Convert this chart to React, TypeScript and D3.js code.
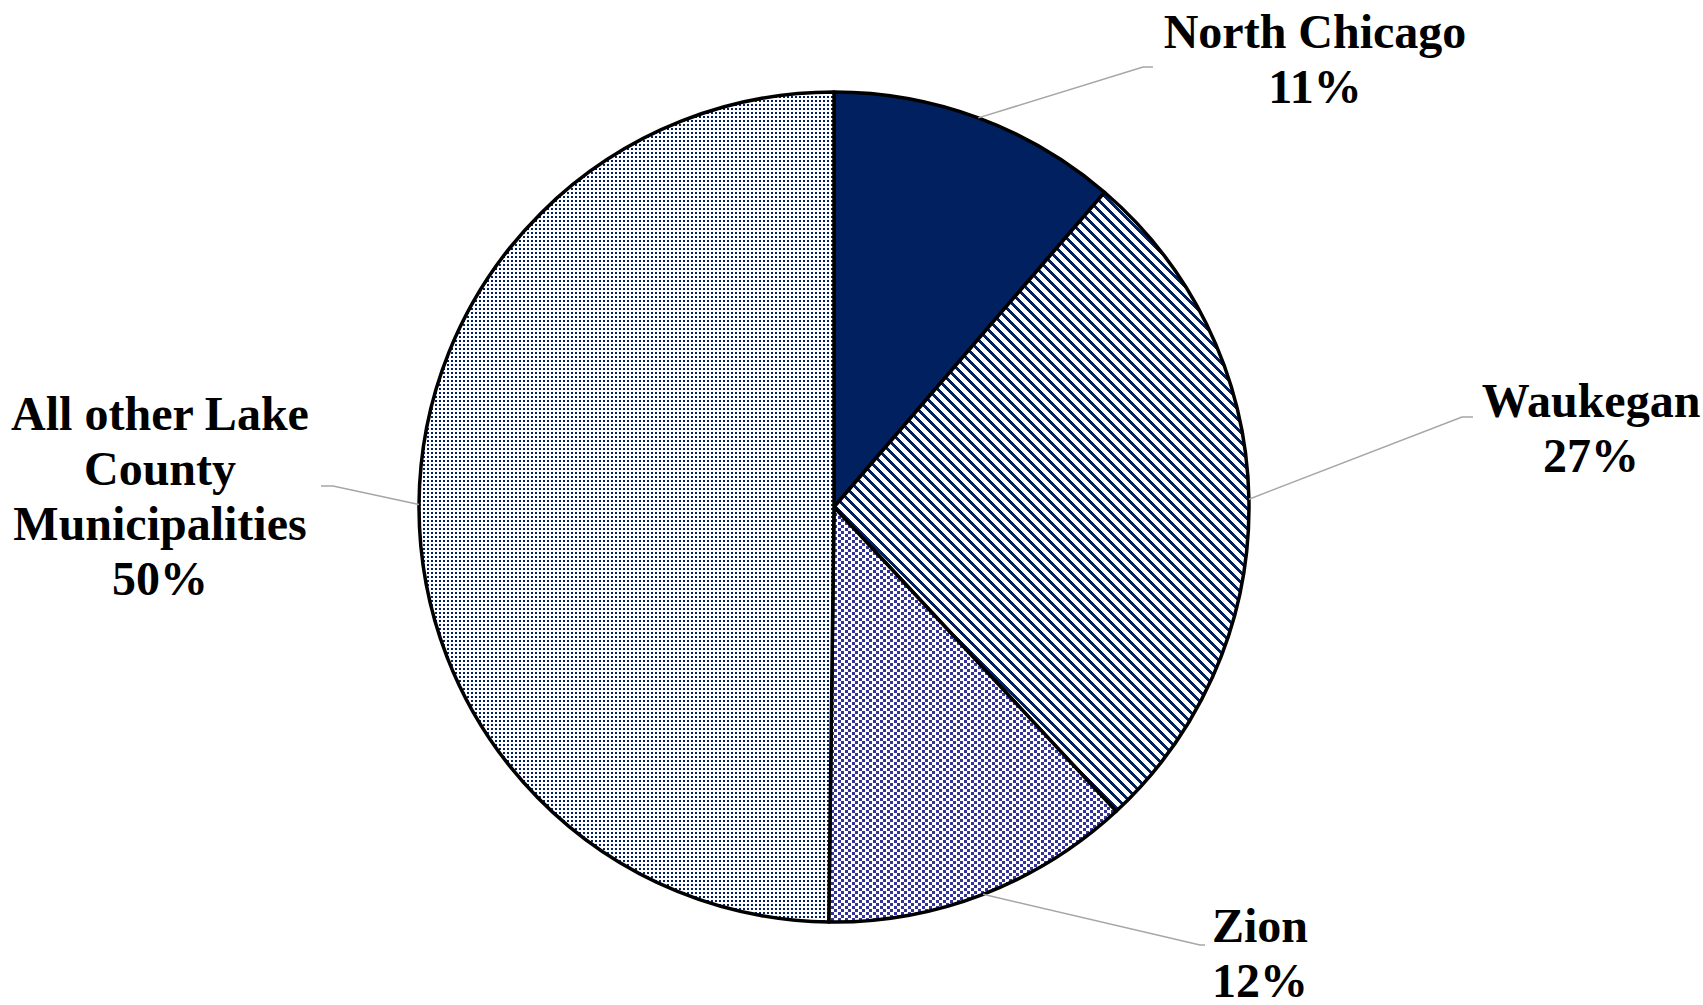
import React from 'react';
import * as d3 from 'd3';

// slice data, clockwise from 12 o'clock
const labels = ['North Chicago', 'Waukegan', 'Zion', 'All other Lake County Municipalities'];
const shares = [11.3, 26.8, 12.1, 49.8];
const fills = ['url(#solidNavy)', 'url(#wideDnDiag)', 'url(#confetti)', 'url(#fineDots)'];

// label text lines and layout (centre x, first baseline, leader end points)
const labelLines = [
  ['North Chicago'],
  ['Waukegan'],
  ['Zion'],
  ['All other Lake', 'County', 'Municipalities'],
];
const labelLayout = [
  { x: 1315, y: 48, leader: [[1143, 67], [1153, 67]] },
  { x: 1591, y: 417, leader: [[1462, 417], [1473, 417]] },
  { x: 1260, y: 942, leader: [[1200, 945], [1205, 945]] },
  { x: 160, y: 430, leader: [[333, 486], [321, 486]] },
];

const W = 1703;
const H = 1005;
const cx = 834;
const cy = 507;
const radius = 415;
const lineH = 55;
const navy = '#002060';
const zionBlue = '#33339a';

// stair-step rows for the wide downward diagonal tile
const diagP = 10;
const diagBand = 4;
const diagRows = d3.range(diagP);

const App: React.FC = () => {
  const total = d3.sum(shares);
  const pie = d3.pie<number>().value(d => d).sort(null);
  const arcs = pie(shares);
  const arc = d3.arc<d3.PieArcDatum<number>>().innerRadius(0).outerRadius(radius);

  return (
    <svg
      width={W}
      height={H}
      style={{ position: 'absolute', left: 0, top: 0, background: '#fff' }}
    >
      <defs>
        <pattern id="solidNavy" patternUnits="userSpaceOnUse" width={4} height={4}>
          <rect width={4} height={4} fill={navy} />
        </pattern>
        <pattern id="wideDnDiag" patternUnits="userSpaceOnUse" width={diagP} height={diagP}>
          <rect width={diagP} height={diagP} fill="#fff" />
          {diagRows.map(r => (
            <g key={r} shapeRendering="crispEdges" fill={navy}>
              <rect x={r} y={r} width={Math.min(diagBand, diagP - r)} height={1} />
              {r > diagP - diagBand && <rect x={0} y={r} width={r - (diagP - diagBand)} height={1} />}
            </g>
          ))}
        </pattern>
        <pattern id="confetti" patternUnits="userSpaceOnUse" width={7} height={6}>
          <rect width={7} height={6} fill="#fff" />
          <g shapeRendering="crispEdges" fill={zionBlue}>
            <rect x={0} y={0} width={3} height={3} />
            <rect x={4} y={3} width={3} height={3} />
          </g>
        </pattern>
        <pattern id="fineDots" patternUnits="userSpaceOnUse" width={4} height={4}>
          <rect width={4} height={4} fill="#fff" />
          <rect x={1} y={1} width={2} height={2} fill={navy} shapeRendering="crispEdges" />
        </pattern>
      </defs>

      <g transform={`translate(${cx},${cy})`}>
        {arcs.map((a, i) => (
          <path
            key={labels[i]}
            d={arc(a) || ''}
            fill={fills[i]}
            stroke="#000"
            strokeWidth={3.5}
            strokeLinejoin="round"
          />
        ))}
      </g>

      {arcs.map((a, i) => {
        const mid = (a.startAngle + a.endAngle) / 2;
        const sx = cx + radius * Math.sin(mid);
        const sy = cy - radius * Math.cos(mid);
        const pts = [[sx, sy], ...labelLayout[i].leader];
        return (
          <polyline
            key={'l' + i}
            points={pts.map(p => p.join(',')).join(' ')}
            fill="none"
            stroke="#a6a6a6"
            strokeWidth={1.5}
          />
        );
      })}

      {arcs.map((a, i) => {
        const pct = Math.round((a.value / total) * 100) + '%';
        const lines = [...labelLines[i], pct];
        const lay = labelLayout[i];
        return (
          <text
            key={'t' + i}
            textAnchor="middle"
            fontFamily="'Liberation Serif', 'Times New Roman', serif"
            fontWeight="bold"
            fontSize={48}
            fill="#000"
          >
            {lines.map((ln, j) => (
              <tspan key={j} x={lay.x} y={lay.y + j * lineH}>
                {ln}
              </tspan>
            ))}
          </text>
        );
      })}
    </svg>
  );
};

export default App;
